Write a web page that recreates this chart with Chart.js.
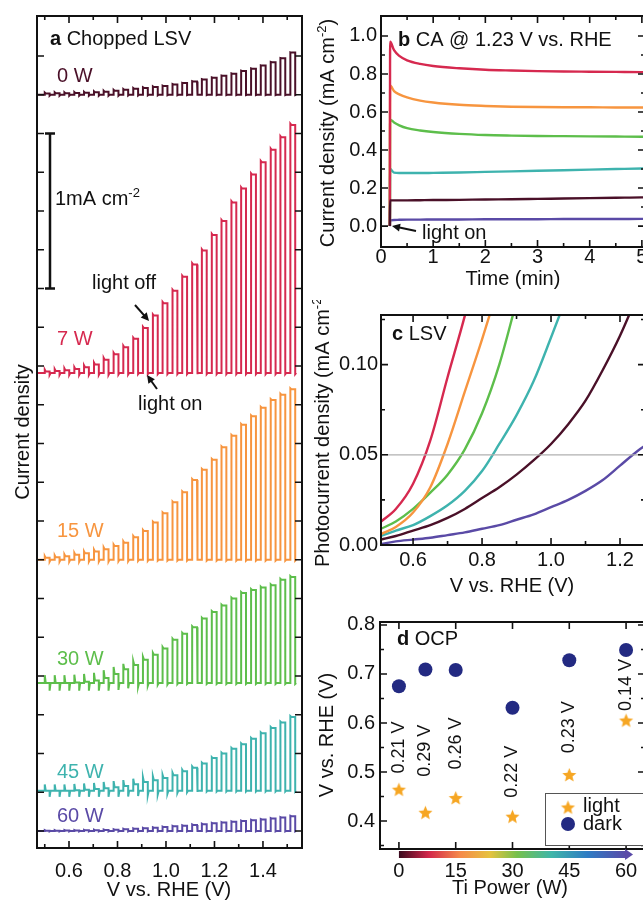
<!DOCTYPE html>
<html><head><meta charset="utf-8">
<script src="https://cdn.jsdelivr.net/npm/chart.js@4.4.1/dist/chart.umd.min.js"></script>
<style>
html,body{margin:0;padding:0;background:#fff;overflow:hidden;width:643px;height:901px;position:relative;}
canvas{position:absolute;}
</style></head><body>
<canvas id="ca" width="310" height="901" style="left:0;top:0"></canvas>
<canvas id="cb" width="345" height="300" style="left:310px;top:0"></canvas>
<canvas id="cc" width="345" height="300" style="left:310px;top:300px"></canvas>
<canvas id="cd" width="345" height="301" style="left:310px;top:600px"></canvas>
<script>
// ---------------- DATA ----------------
const powerLabels = ['0 W', '7 W', '15 W', '30 W', '45 W', '60 W'];
const seriesColors = ['#4a1028', '#d6294f', '#f7953f', '#5dbe4b', '#3eb3ae', '#5a4aa6'];

// Panel a: chopped LSV (V vs RHE), chop edges and light-on photocurrent per chop (mA cm-2)
const scanStart = 0.47, scanEnd = 1.538;
const chopOn  = [0.500,0.541,0.581,0.622,0.662,0.703,0.743,0.784,0.824,0.865,0.905,0.946,0.986,1.027,1.067,1.108,1.148,1.189,1.229,1.270,1.310,1.351,1.391,1.432,1.472,1.513];
const chopOff = [0.520,0.561,0.601,0.642,0.682,0.723,0.763,0.804,0.844,0.885,0.925,0.966,1.006,1.047,1.087,1.128,1.168,1.209,1.249,1.290,1.330,1.371,1.411,1.452,1.492,1.533];
const offsetA = [4.75, 2.955, 1.75, 0.955, 0.26, 0.0];   // vertical stacking offsets (mA cm-2)
const amp0W  = [0.008,0.009,0.010,0.011,0.013,0.016,0.020,0.026,0.032,0.038,0.044,0.050,0.056,0.066,0.075,0.086,0.098,0.110,0.122,0.136,0.153,0.168,0.188,0.210,0.235,0.272];
const amp7W  = [0.010,0.013,0.018,0.025,0.037,0.055,0.085,0.120,0.165,0.220,0.290,0.370,0.450,0.530,0.620,0.700,0.790,0.890,0.980,1.100,1.190,1.280,1.360,1.440,1.520,1.600];
const amp15W = [0.012,0.016,0.022,0.032,0.042,0.053,0.068,0.088,0.110,0.145,0.185,0.240,0.300,0.370,0.435,0.515,0.580,0.645,0.725,0.800,0.870,0.925,0.980,1.030,1.065,1.100];
const amp30W = [0.000,0.000,0.000,0.003,0.008,0.015,0.032,0.058,0.088,0.115,0.150,0.182,0.222,0.278,0.318,0.360,0.415,0.458,0.500,0.545,0.580,0.600,0.615,0.630,0.666,0.683];
const amp45W = [0.000,0.000,0.000,0.003,0.006,0.010,0.016,0.022,0.030,0.042,0.056,0.067,0.082,0.100,0.125,0.148,0.175,0.210,0.240,0.270,0.300,0.335,0.370,0.405,0.440,0.475];
const amp60W = [0.002,0.002,0.003,0.003,0.004,0.005,0.006,0.008,0.011,0.014,0.017,0.021,0.025,0.030,0.034,0.039,0.044,0.049,0.054,0.059,0.064,0.069,0.074,0.080,0.086,0.095];
// transient spikes at each light on/off edge (mA cm-2)
const tr0W  = [0.006,0.006,0.006,0.006,0.006,0.006,0.006,0.006,0.005,0.005,0.004,0.004,0.003,0.003,0.002,0.002,0.002,0.002,0.002,0.002,0.002,0.002,0.002,0.002,0.002,0.002];
const tr7W  = [0.012,0.012,0.012,0.012,0.012,0.012,0.012,0.010,0.010,0.008,0.008,0.008,0.008,0.008,0.008,0.008,0.008,0.008,0.008,0.008,0.008,0.008,0.008,0.008,0.008,0.008];
const tr15W = [0.012,0.012,0.012,0.012,0.012,0.012,0.012,0.010,0.010,0.008,0.008,0.006,0.006,0.006,0.006,0.006,0.006,0.006,0.006,0.006,0.006,0.006,0.006,0.006,0.006,0.006];
const tr30W = [0.050,0.050,0.050,0.050,0.050,0.050,0.050,0.045,0.035,0.025,0.018,0.012,0.010,0.008,0.006,0.006,0.006,0.006,0.006,0.006,0.006,0.006,0.006,0.006,0.006,0.006];
const tr45W = [0.040,0.040,0.040,0.040,0.040,0.040,0.040,0.040,0.038,0.035,0.030,0.025,0.020,0.015,0.010,0.008,0.006,0.006,0.006,0.006,0.006,0.006,0.006,0.006,0.006,0.006];
const tr60W = [0.003,0.003,0.003,0.003,0.003,0.003,0.003,0.003,0.003,0.003,0.003,0.003,0.003,0.003,0.003,0.003,0.003,0.003,0.003,0.003,0.003,0.003,0.003,0.003,0.003,0.003];
const xTicksA = [0.6, 0.8, 1.0, 1.2, 1.4];
const xMinorA = [0.5, 0.7, 0.9, 1.1, 1.3, 1.5];
const yTicksA = [0,0.25,0.5,0.75,1,1.25,1.5,1.75,2,2.25,2.5,2.75,3,3.25,3.5,3.75,4,4.25,4.5,4.75,5];

// Panel b: chronoamperometry at 1.23 V (time in min, current mA cm-2)
const timeB = [0.17,0.175,0.25,0.35,0.5,0.75,1.0,1.5,2.0,2.5,3.0,3.5,4.0,4.5,5.0,5.1];
const ca0W  = [0,0.135,0.135,0.135,0.135,0.136,0.137,0.138,0.140,0.141,0.143,0.145,0.147,0.149,0.151,0.151];
const ca7W  = [0,0.970,0.925,0.895,0.872,0.853,0.842,0.830,0.822,0.818,0.815,0.813,0.812,0.811,0.810,0.810];
const ca15W = [0,0.740,0.710,0.693,0.677,0.660,0.650,0.638,0.632,0.628,0.626,0.625,0.625,0.624,0.624,0.624];
const ca30W = [0,0.560,0.545,0.530,0.515,0.503,0.495,0.485,0.479,0.476,0.474,0.473,0.472,0.471,0.470,0.470];
const ca45W = [0,0.300,0.281,0.279,0.279,0.279,0.280,0.282,0.285,0.288,0.291,0.294,0.297,0.300,0.303,0.304];
const ca60W = [0,0.030,0.032,0.033,0.034,0.034,0.035,0.035,0.036,0.036,0.036,0.037,0.037,0.037,0.038,0.038];
const xTicksB = [0,1,2,3,4,5];
const xMinorB = [0.5,1.5,2.5,3.5,4.5];
const yTicksB = [0,0.2,0.4,0.6,0.8,1.0];
const yMinorB = [0.1,0.3,0.5,0.7,0.9];

// Panel c: LSV photocurrent (V vs RHE, mA cm-2)
const vC = [0.507,0.55,0.60,0.65,0.70,0.75,0.80,0.85,0.90,0.95,1.00,1.05,1.10,1.15,1.20,1.25,1.28];
const lsv0W  = [0.003,0.005,0.008,0.011,0.015,0.020,0.026,0.032,0.039,0.047,0.056,0.067,0.080,0.097,0.116,0.138];
const lsv7W  = [0.013,0.020,0.034,0.058,0.093,0.127,0.165];
const lsv15W = [0.006,0.010,0.018,0.032,0.056,0.085,0.114,0.145];
const lsv30W = [0.009,0.013,0.020,0.029,0.039,0.053,0.073,0.100,0.135];
const lsv45W = [0.005,0.008,0.011,0.016,0.022,0.030,0.041,0.056,0.072,0.091,0.115,0.140];
const lsv60W = [0.0005,0.002,0.003,0.004,0.0055,0.007,0.009,0.011,0.014,0.017,0.021,0.025,0.030,0.036,0.044,0.052,0.056];
const xTicksC = [0.6,0.8,1.0,1.2];
const xMinorC = [0.7,0.9,1.1];
const yTicksC = [0,0.05,0.10];
const yMinorC = [0.025,0.075,0.125];
const refLineC = 0.05;

// Panel d: open-circuit potential vs Ti sputter power
const powerW   = [0, 7, 15, 30, 45, 60];
const ocpLight = [0.465, 0.418, 0.448, 0.410, 0.495, 0.606];
const ocpDark  = [0.675, 0.709, 0.708, 0.631, 0.728, 0.749];
const diffLabels = ['0.21 V','0.29 V','0.26 V','0.22 V','0.23 V','0.14 V'];
const xTicksD = [0,15,30,45,60];
const yTicksD = [0.4,0.5,0.6,0.7,0.8];
const yMinorD = [0.35,0.45,0.55,0.65,0.75];

// ---------------- HELPERS ----------------
const FONT = '"Liberation Sans", Arial, Helvetica, sans-serif';
const TXT = '#111';
function font(sz, bold){ return (bold ? 'bold ' : '') + sz + 'px ' + FONT; }

function choppedTrace(amp, tr, offset){
  const pts = [{x: scanStart, y: offset}];
  for (let i = 0; i < chopOn.length; i++){
    const on = chopOn[i], off = chopOff[i], a = amp[i], t = tr[i];
    pts.push({x: on, y: offset});
    pts.push({x: on, y: offset + a + t});
    pts.push({x: on + 0.004, y: offset + a});
    pts.push({x: off, y: offset + a});
    pts.push({x: off, y: offset - t});
    pts.push({x: off + 0.004, y: offset});
  }
  pts.push({x: scanEnd, y: offset});
  return pts;
}
function xy(xs, ys){ return ys.map((v, i) => ({x: xs[i], y: v})); }

function drawRich(ctx, parts, x, y, size){
  let cx = x;
  ctx.textBaseline = 'alphabetic'; ctx.textAlign = 'left'; ctx.fillStyle = TXT;
  for (const [t, b] of parts){ ctx.font = font(size, b); ctx.fillText(t, cx, y); cx += ctx.measureText(t).width; }
}
function supWidth(ctx, base, sup, tail, size){
  ctx.font = font(size); let w = ctx.measureText(base).width + ctx.measureText(tail).width;
  ctx.font = font(Math.round(size*0.65)); w += ctx.measureText(sup).width; return w;
}
function drawSup(ctx, base, sup, tail, x, y, size){
  ctx.textAlign = 'left'; ctx.textBaseline = 'alphabetic';
  ctx.font = font(size); ctx.fillText(base, x, y); let w = ctx.measureText(base).width;
  ctx.font = font(Math.round(size*0.65)); ctx.fillText(sup, x + w, y - size*0.42); w += ctx.measureText(sup).width;
  ctx.font = font(size); ctx.fillText(tail, x + w, y);
}
function vTitle(ctx, base, sup, tail, bx, cy, size){
  ctx.save(); ctx.fillStyle = TXT;
  ctx.translate(bx, cy); ctx.rotate(-Math.PI/2);
  const w = supWidth(ctx, base, sup, tail, size);
  drawSup(ctx, base, sup, tail, -w/2, 0, size);
  ctx.restore();
}
function hTitle(ctx, s, cx, by, size){
  ctx.font = font(size); ctx.fillStyle = TXT; ctx.textAlign = 'center'; ctx.textBaseline = 'alphabetic';
  ctx.fillText(s, cx, by);
}
function arrow(ctx, x1, y1, x2, y2){
  const ang = Math.atan2(y2 - y1, x2 - x1), h = 8, w = 4;
  ctx.save(); ctx.strokeStyle = '#111'; ctx.fillStyle = '#111'; ctx.lineWidth = 2;
  ctx.beginPath(); ctx.moveTo(x1, y1); ctx.lineTo(x2 - Math.cos(ang)*h*0.8, y2 - Math.sin(ang)*h*0.8); ctx.stroke();
  ctx.beginPath(); ctx.moveTo(x2, y2);
  ctx.lineTo(x2 - h*Math.cos(ang) + w*Math.sin(ang), y2 - h*Math.sin(ang) - w*Math.cos(ang));
  ctx.lineTo(x2 - h*Math.cos(ang) - w*Math.sin(ang), y2 - h*Math.sin(ang) + w*Math.cos(ang));
  ctx.closePath(); ctx.fill(); ctx.restore();
}
function starCanvas(r, color){
  const s = Math.ceil(r*2 + 2), c = document.createElement('canvas'); c.width = c.height = s;
  const g = c.getContext('2d'); g.fillStyle = color; g.beginPath();
  for (let i = 0; i < 10; i++){ const rr = i % 2 ? r*0.45 : r, a = -Math.PI/2 + i*Math.PI/5; g.lineTo(s/2 + rr*Math.cos(a), s/2 + 1 + rr*Math.sin(a)); }
  g.closePath(); g.fill(); return c;
}

function decor(spec){
  return { id: 'decor', afterDatasetsDraw(chart){
    const ctx = chart.ctx, a = chart.chartArea, xs = chart.scales.x, ys = chart.scales.y;
    ctx.save();
    if (spec.before) spec.before(chart, ctx);
    ctx.strokeStyle = '#111'; ctx.lineWidth = 1.6; ctx.beginPath();
    const tx = (vals, len) => vals.forEach(v => { const p = xs.getPixelForValue(v);
      ctx.moveTo(p, a.bottom); ctx.lineTo(p, a.bottom - len); ctx.moveTo(p, a.top); ctx.lineTo(p, a.top + len); });
    const ty = (vals, len) => vals.forEach(v => { const p = ys.getPixelForValue(v);
      ctx.moveTo(a.left, p); ctx.lineTo(a.left + len, p); ctx.moveTo(a.right, p); ctx.lineTo(a.right - len, p); });
    tx(spec.xMaj || [], 7); tx(spec.xMin || [], 4); ty(spec.yMaj || [], 7); ty(spec.yMin || [], 4);
    ctx.stroke();
    ctx.lineWidth = 2; ctx.strokeRect(a.left, a.top, a.right - a.left, a.bottom - a.top);
    ctx.restore();
    ctx.save(); if (spec.extra) spec.extra(chart, ctx); ctx.restore();
  }};
}

function options(s){
  return {
    responsive: false, maintainAspectRatio: false, animation: false, devicePixelRatio: 1,
    layout: { padding: s.padding },
    plugins: { legend: { display: false }, tooltip: { enabled: false } },
    elements: { point: { radius: 0 }, line: { borderWidth: s.lw || 2, tension: 0 } },
    scales: {
      x: { type: 'linear', position: 'bottom', min: s.x.min, max: s.x.max,
        grid: { display: false, drawTicks: false }, border: { display: false },
        afterFit: sc => { sc.height = s.x.h; },
        afterBuildTicks: sc => { sc.ticks = s.x.ticks.map(v => ({ value: v })); },
        ticks: { display: true, autoSkip: false, maxRotation: 0, minRotation: 0, padding: s.x.pad,
          color: TXT, font: { family: FONT, size: 20 }, callback: s.x.fmt } },
      y: { type: 'linear', position: 'left', min: s.y.min, max: s.y.max,
        grid: { display: false, drawTicks: false }, border: { display: false },
        afterFit: sc => { sc.width = s.y.w; },
        afterBuildTicks: sc => { sc.ticks = s.y.ticks.map(v => ({ value: v })); },
        ticks: { display: s.y.show !== false, autoSkip: false, padding: s.y.pad,
          color: TXT, font: { family: FONT, size: 20 }, callback: s.y.fmt } }
    }
  };
}

// ---------------- PANEL A ----------------
const ampA = [amp0W, amp7W, amp15W, amp30W, amp45W, amp60W];
const trA = [tr0W, tr7W, tr15W, tr30W, tr45W, tr60W];
const labelBaseA = [82, 345, 537, 665, 778, 822];
new Chart(document.getElementById('ca'), {
  type: 'line',
  data: { datasets: ampA.map((amp, i) => ({ label: powerLabels[i], data: choppedTrace(amp, trA[i], offsetA[i]),
    borderColor: seriesColors[i], borderWidth: 2, pointRadius: 0, fill: false })) },
  options: options({ padding: { left: 0, top: 16, right: 8, bottom: 0 }, lw: 2,
    x: { min: 0.468, max: 1.561, h: 53, ticks: xTicksA, pad: 11, fmt: v => v.toFixed(1) },
    y: { min: -0.11, max: 5.258, w: 37, ticks: yTicksA, show: false, pad: 0, fmt: v => '' } }),
  plugins: [decor({ xMaj: xTicksA, xMin: xMinorA, yMaj: yTicksA,
    extra(chart, ctx){
      const ys = chart.scales.y;
      drawRich(ctx, [['a', true], [' Chopped LSV', false]], 50, 45, 20);
      powerLabels.forEach((t, i) => { ctx.font = font(20); ctx.fillStyle = seriesColors[i]; ctx.textAlign = 'left'; ctx.fillText(t, 57, labelBaseA[i]); });
      // scale bar (1 mA cm-2)
      const y1 = ys.getPixelForValue(4.5), y2 = ys.getPixelForValue(3.5);
      ctx.strokeStyle = '#111'; ctx.lineWidth = 2.5; ctx.beginPath();
      ctx.moveTo(50, y1); ctx.lineTo(50, y2); ctx.moveTo(45, y1); ctx.lineTo(55, y1); ctx.moveTo(45, y2); ctx.lineTo(55, y2); ctx.stroke();
      ctx.fillStyle = TXT; drawSup(ctx, '1mA cm', '-2', '', 55, 205, 20);
      ctx.fillStyle = TXT; ctx.font = font(20); ctx.textAlign = 'left';
      ctx.fillText('light off', 92, 289);
      ctx.fillText('light on', 138, 410);
      arrow(ctx, 135, 305, 149, 321);
      arrow(ctx, 157, 389, 147, 375);
      vTitle(ctx, 'Current density', '', '', 29, 432, 20);
      hTitle(ctx, 'V vs. RHE (V)', 169, 896, 20);
    } })]
});

// ---------------- PANEL B ----------------
const caB = [ca0W, ca7W, ca15W, ca30W, ca45W, ca60W];
new Chart(document.getElementById('cb'), {
  type: 'line',
  data: { datasets: caB.map((d, i) => ({ label: powerLabels[i], data: xy(timeB, d), borderColor: seriesColors[i],
    borderWidth: 2.4, pointRadius: 0, cubicInterpolationMode: 'monotone', fill: false })) },
  options: options({ padding: { left: 0, top: 16, right: 10, bottom: 0 }, lw: 2.4,
    x: { min: 0, max: 5.06, h: 53, ticks: xTicksB, pad: -2, fmt: v => String(Math.round(v)) },
    y: { min: -0.11, max: 1.105, w: 71, ticks: yTicksB, pad: 4, fmt: v => v.toFixed(1) } }),
  plugins: [decor({ xMaj: xTicksB, xMin: xMinorB, yMaj: yTicksB, yMin: yMinorB,
    extra(chart, ctx){
      drawRich(ctx, [['b', true], [' CA @ 1.23 V vs. RHE', false]], 88, 46, 20);
      ctx.fillStyle = TXT; ctx.font = font(20); ctx.textAlign = 'left'; ctx.fillText('light on', 112, 239);
      arrow(ctx, 106, 231, 82, 226);
      vTitle(ctx, 'Current density (mA cm', '-2', ')', 24, 133, 20);
      hTitle(ctx, 'Time (min)', 203, 285, 20);
    } })]
});

// ---------------- PANEL C ----------------
const lsvC = [lsv0W, lsv7W, lsv15W, lsv30W, lsv45W, lsv60W];
new Chart(document.getElementById('cc'), {
  type: 'line',
  data: { datasets: lsvC.map((d, i) => ({ label: powerLabels[i], data: xy(vC, d), borderColor: seriesColors[i],
    borderWidth: 2.4, pointRadius: 0, cubicInterpolationMode: 'monotone', fill: false })) },
  options: options({ padding: { left: 0, top: 13, right: 10, bottom: 0 }, lw: 2.4,
    x: { min: 0.507, max: 1.2725, h: 55, ticks: xTicksC, pad: 3, fmt: v => v.toFixed(1) },
    y: { min: 0, max: 0.1275, w: 71, ticks: yTicksC, pad: 3, fmt: v => v.toFixed(2) } }),
  plugins: [decor({ xMaj: xTicksC, xMin: xMinorC, yMaj: yTicksC, yMin: yMinorC,
    before(chart, ctx){
      const a = chart.chartArea, p = chart.scales.y.getPixelForValue(refLineC);
      ctx.strokeStyle = '#b0b0b0'; ctx.lineWidth = 1.2; ctx.beginPath(); ctx.moveTo(a.left, p); ctx.lineTo(a.right, p); ctx.stroke();
    },
    extra(chart, ctx){
      drawRich(ctx, [['c', true], [' LSV', false]], 82, 40, 20);
      vTitle(ctx, 'Photocurrent density (mA cm', '-2', ')', 19, 129, 20);
      hTitle(ctx, 'V vs. RHE (V)', 202, 292, 20);
    } })]
});

// ---------------- PANEL D ----------------
const starImg = starCanvas(7.4, '#f6a623');
const DARK = '#232a82';
new Chart(document.getElementById('cd'), {
  type: 'scatter',
  data: { datasets: [
    { label: 'light', data: xy(powerW, ocpLight), pointStyle: starImg, pointRadius: 8, backgroundColor: '#f6a623', borderColor: '#f6a623' },
    { label: 'dark', data: xy(powerW, ocpDark), pointStyle: 'circle', pointRadius: 7, backgroundColor: DARK, borderColor: DARK, borderWidth: 0 }
  ] },
  options: options({ padding: { left: 0, top: 22, right: 10, bottom: 0 },
    x: { min: -5, max: 65, h: 52, ticks: xTicksD, pad: 10, fmt: v => String(v) },
    y: { min: 0.343, max: 0.806, w: 70, ticks: yTicksD, pad: 5, fmt: v => v.toFixed(1) } }),
  plugins: [decor({ xMaj: xTicksD, yMaj: yTicksD, yMin: yMinorD,
    extra(chart, ctx){
      const xs = chart.scales.x, ys = chart.scales.y, a = chart.chartArea;
      drawRich(ctx, [['d', true], [' OCP', false]], 87, 45, 20);
      // difference labels (rotated)
      ctx.fillStyle = TXT; ctx.font = font(18); ctx.textAlign = 'center'; ctx.textBaseline = 'middle';
      powerW.forEach((w, i) => {
        const mid = (ocpLight[i] + ocpDark[i]) / 2 - (i === 5 ? 0 : 0.02);
        ctx.save(); ctx.translate(xs.getPixelForValue(w), ys.getPixelForValue(mid)); ctx.rotate(-Math.PI/2);
        ctx.fillText(diffLabels[i], 0, 0); ctx.restore();
      });
      // legend
      ctx.fillStyle = '#fff'; ctx.fillRect(235, 193, 120, 52);
      ctx.strokeStyle = '#555'; ctx.lineWidth = 1; ctx.strokeRect(235.5, 193.5, 120, 52);
      ctx.drawImage(starImg, 258 - starImg.width/2, 207 - starImg.height/2);
      ctx.fillStyle = DARK; ctx.beginPath(); ctx.arc(258, 224, 7, 0, Math.PI*2); ctx.fill();
      ctx.fillStyle = TXT; ctx.font = font(20); ctx.textAlign = 'left'; ctx.textBaseline = 'alphabetic';
      ctx.fillText('light', 273, 212); ctx.fillText('dark', 273, 230);
      // colour bar arrow
      const x0 = xs.getPixelForValue(0), x1 = xs.getPixelForValue(60), yb = a.bottom + 2;
      const g = ctx.createLinearGradient(x0, 0, x1, 0);
      [[0,'#3a0a1e'],[0.13,'#d2264a'],[0.27,'#f68a4a'],[0.4,'#e6c23f'],[0.52,'#76c04c'],[0.67,'#3fb6a8'],[0.83,'#2e7cc4'],[1,'#5a4aa8']]
        .forEach(([o, c]) => g.addColorStop(o, c));
      ctx.fillStyle = g; ctx.fillRect(x0, yb, x1 - x0, 7);
      ctx.fillStyle = '#5a4aa8'; ctx.beginPath(); ctx.moveTo(x1 - 1, yb - 2); ctx.lineTo(x1 + 7, yb + 3.5); ctx.lineTo(x1 - 1, yb + 9); ctx.closePath(); ctx.fill();
      vTitle(ctx, 'V vs. RHE (V)', '', '', 23, 135, 20);
      hTitle(ctx, 'Ti Power (W)', 200, 294, 20);
    } })]
});
</script>
</body></html>
